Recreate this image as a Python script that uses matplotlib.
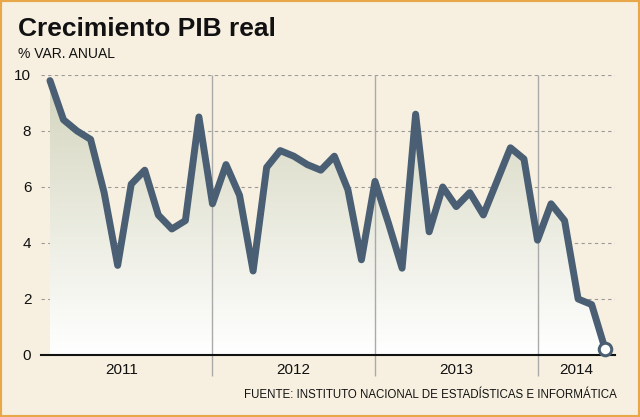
import numpy as np
import matplotlib
matplotlib.use('Agg')
import matplotlib.pyplot as plt
from matplotlib.colors import LinearSegmentedColormap
from matplotlib.patches import Rectangle

# crecimiento mensual del PIB, ene 2011 - jun 2014 (% var. anual)
pib = [9.8, 8.4, 8.0, 7.7, 5.8, 3.2, 6.1, 6.6, 5.0, 4.5, 4.8, 8.5,
       5.4, 6.8, 5.7, 3.0, 6.7, 7.3, 7.1, 6.8, 6.6, 7.1, 5.9, 3.4,
       6.2, 4.7, 3.1, 8.6, 4.4, 6.0, 5.3, 5.8, 5.0, 6.2, 7.4, 7.0,
       4.1, 5.4, 4.8, 2.0, 1.8, 0.2]
years = ['2011', '2012', '2013', '2014']
yticks = [0, 2, 4, 6, 8, 10]

title = 'Crecimiento PIB real'
subtitle = '% VAR. ANUAL'
source = 'FUENTE: INSTITUTO NACIONAL DE ESTADÍSTICAS E INFORMÁTICA'

FONT = 'Liberation Sans'
BG = '#f7f0e0'
LINE = '#4a5f73'

fig = plt.figure(figsize=(6.4, 4.17), dpi=100, facecolor=BG)
ax = fig.add_axes([0.0641, 0.1487, 0.897, 0.6715])
ax.set_facecolor(BG)

x = np.arange(len(pib))
x0, x1 = -0.66, 41.73

# relleno con degradado bajo la curva
grad = np.linspace(0, 1, 256).reshape(-1, 1)
cmap = LinearSegmentedColormap.from_list('g', ['#ffffff', '#d3d4bc'])
im = ax.imshow(grad, extent=[x[0], x[-1], 0, 10], origin='lower', cmap=cmap,
               aspect='auto', zorder=1, interpolation='bilinear')
poly = ax.fill_between(x, pib, 0, facecolor='none', edgecolor='none')
im.set_clip_path(poly.get_paths()[0], transform=ax.transData)

for v in yticks[1:]:
    ax.axhline(v, color='#9a9a9a', lw=0.8, ls=(0, (3, 3)), zorder=0.5)

# separadores de año
seps = [12, 24, 36]
ax.vlines(seps, -0.75, 10, color='#aaaaaa', lw=1, zorder=2, clip_on=False)

ax.plot(x, pib, color=LINE, lw=5, solid_joinstyle='round',
        solid_capstyle='round', zorder=3, clip_on=False)
ax.plot(x[-1], pib[-1], 'o', ms=9, mfc='white', mec=LINE, mew=2.2,
        zorder=4, clip_on=False)

ax.set_xlim(x0, x1)
ax.set_ylim(0, 10)
ax.set_xticks([])
ax.set_yticks(yticks)
ax.tick_params(axis='y', length=0, pad=7, labelsize=11, labelcolor='#111111')
for lab in ax.get_yticklabels():
    lab.set_family(FONT)
for s in ['top', 'right', 'left']:
    ax.spines[s].set_visible(False)
ax.spines['bottom'].set_linewidth(1.5)
ax.spines['bottom'].set_color('#111111')

edges = [x0 - 0.7] + seps + [x1]
for i, yr in enumerate(years):
    ax.text((edges[i] + edges[i + 1]) / 2, -0.54, yr, ha='center', va='center',
            fontsize=11, family=FONT, color='#111111')

fig.text(0.028, 0.9137, title, fontsize=19, fontweight='bold', family=FONT,
         color='#111111', va='baseline')
fig.text(0.028, 0.861, subtitle, fontsize=10, family=FONT, color='#111111',
         va='baseline')
fig.text(0.964, 0.0456, source, fontsize=8.3, family=FONT, color='#111111',
         ha='right', va='baseline')

fig.patches.append(Rectangle((0, 0), 1, 1, transform=fig.transFigure, fill=False,
                             edgecolor='#e8a84a', lw=3))

fig.savefig('out.png', dpi=100, facecolor=BG)
